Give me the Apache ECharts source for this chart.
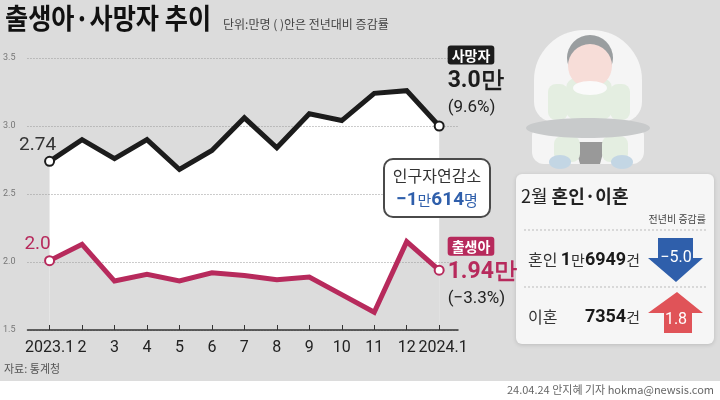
<!DOCTYPE html>
<html>
<head>
<meta charset="utf-8">
<script src="https://cdn.jsdelivr.net/npm/echarts@6/dist/echarts.min.js"></script>
<style>
html, body { margin: 0; padding: 0; background: #fff; }
#main { width: 720px; height: 400px; }
</style>
</head>
<body>
<div id="main"></div>
<script>
// 월별 라벨과 값(만명)
var months = ['2023.1', '2', '3', '4', '5', '6', '7', '8', '9', '10', '11', '12', '2024.1'];
var deaths = [2.74, 2.90, 2.76, 2.90, 2.68, 2.82, 3.06, 2.84, 3.09, 3.04, 3.24, 3.26, 3.00];
var births = [2.01, 2.13, 1.86, 1.91, 1.86, 1.92, 1.90, 1.87, 1.89, 1.76, 1.63, 2.15, 1.94];
var startLabels = ['2.74', '2.0'];
var deathNote = ['사망자', '3.0만', '(9.6%)'];
var birthNote = ['출생아', '1.94만', '(−3.3%)'];
var gapNote = ['인구자연감소', '−1', '만', '614', '명'];

// 2월 혼인·이혼
var panelRows = ['혼인', '이혼'];
var panelMan = ['1', ''];
var panelCounts = ['6949', '7354'];
var panelChanges = ['−5.0', '1.8'];

var BLACK = '#1c1c1c', RED = '#b72a5c', BLUE = '#2f5fab', BG = '#dcdcdc';
var NUM = "Roboto, 'Liberation Sans', sans-serif";
var KR = "'Noto Sans CJK KR', 'Noto Sans', sans-serif";

var myChart = echarts.init(document.getElementById('main'));
var idx = months.map(function (m, i) { return i; });
var last = months.length - 1;

function lineData(arr, color, startText, note, offY) {
	return arr.map(function (v, i) {
		var item = { value: [i, v], symbol: (i === 0 || i === last) ? 'circle' : 'none' };
		if (i === 0) {
			item.label = {
				show: true, position: 'top', distance: 1, offset: [-12, 0],
				formatter: startText, fontFamily: NUM, fontSize: 19,
				color: color === RED ? RED : '#333'
			};
		}
		if (i === last) {
			item.label = {
				show: true, position: 'right', distance: 3, offset: [0, offY], align: 'left',
				formatter: '{b|' + note[0] + '}\n{v|' + note[1] + '}\n{p|' + note[2] + '}',
				rich: {
					b: { backgroundColor: color, color: '#fff', borderRadius: 3, padding: [3, 4, 2, 4],
						fontSize: 14, fontWeight: 'bold', fontFamily: KR, lineHeight: 22 },
					v: { color: color, fontSize: 23, fontWeight: 'bold', fontFamily: NUM, lineHeight: 30 },
					p: { color: '#222', fontSize: 17, fontFamily: NUM, lineHeight: 24 }
				}
			};
		}
		return item;
	});
}

// 아기 그림 (배경 장식)
var baby = {
	type: 'group', left: 526, top: 30, silent: true,
	children: [
		{ type: 'rect', shape: { x: 10, y: 6, width: 108, height: 92, r: [50, 50, 20, 20] }, style: { fill: '#f5f5f5' } },
		{ type: 'rect', shape: { x: 8, y: 100, width: 112, height: 40, r: 12 }, style: { fill: '#f5f5f5' } },
		{ type: 'rect', shape: { x: 42, y: 54, width: 46, height: 42, r: 10 }, style: { fill: '#e4eee1' } },
		{ type: 'rect', shape: { x: 24, y: 60, width: 20, height: 36, r: 8 }, style: { fill: '#e4eee1' } },
		{ type: 'rect', shape: { x: 86, y: 60, width: 20, height: 36, r: 8 }, style: { fill: '#e4eee1' } },
		{ type: 'circle', shape: { cx: 66, cy: 34, r: 23 }, style: { fill: '#9a9ea0' } },
		{ type: 'circle', shape: { cx: 66, cy: 42, r: 22 }, style: { fill: '#f7ddd8' } },
		{ type: 'ellipse', shape: { cx: 66, cy: 64, rx: 17, ry: 7 }, style: { fill: '#fafafa' } },
		{ type: 'polygon', shape: { points: [[50, 118], [82, 118], [76, 140], [56, 140]] }, style: { fill: '#999' } },
		{ type: 'rect', shape: { x: 30, y: 112, width: 26, height: 26, r: 8 }, style: { fill: '#e4eee1' } },
		{ type: 'rect', shape: { x: 78, y: 112, width: 26, height: 26, r: 8 }, style: { fill: '#e4eee1' } },
		{ type: 'ellipse', shape: { cx: 36, cy: 138, rx: 11, ry: 7 }, style: { fill: '#c3d6e4' } },
		{ type: 'ellipse', shape: { cx: 98, cy: 138, rx: 11, ry: 7 }, style: { fill: '#c3d6e4' } },
		{ type: 'ellipse', shape: { cx: 64, cy: 104, rx: 62, ry: 10 }, style: { fill: '#c8cacb' } }
	]
};

// 혼인·이혼 패널
var panelChildren = [
	{ type: 'rect', shape: { x: 0, y: 0, width: 198, height: 170, r: 6 },
		style: { fill: '#f6f6f6', shadowBlur: 4, shadowColor: 'rgba(0,0,0,0.15)', shadowOffsetY: 1 } },
	{ type: 'text', x: 5, y: 22, style: {
		text: '{r|2월 }{b|혼인·이혼}', verticalAlign: 'middle',
		rich: { r: { fontSize: 18, fontFamily: KR, fill: '#222' }, b: { fontSize: 18, fontFamily: KR, fontWeight: 'bold', fill: '#222' } } } },
	{ type: 'text', x: 190, y: 45, style: { text: '전년비 증감률', align: 'right', verticalAlign: 'middle', fontSize: 10, fontFamily: KR, fill: '#444' } },
	{ type: 'line', shape: { x1: 8, y1: 56, x2: 190, y2: 56 }, style: { stroke: '#bbb', lineDash: [2, 2] } },
	{ type: 'line', shape: { x1: 8, y1: 113, x2: 190, y2: 113 }, style: { stroke: '#bbb', lineDash: [2, 2] } }
];
panelRows.forEach(function (name, i) {
	var cy = i === 0 ? 86 : 143;
	panelChildren.push({ type: 'text', x: 12, y: cy, style: { text: name, verticalAlign: 'middle', fontSize: 16, fontFamily: KR, fill: '#333' } });
	panelChildren.push({ type: 'text', x: 124, y: cy, style: {
		text: '{n|' + panelMan[i] + '}' + (panelMan[i] ? '{u|만}' : '') + '{n|' + panelCounts[i] + '}{u|건}',
		align: 'right', verticalAlign: 'middle',
		rich: { n: { fontSize: 18, fontWeight: 'bold', fontFamily: NUM, fill: '#1a1a1a' }, u: { fontSize: 15, fontFamily: KR, fill: '#333' } } } });
	var down = panelChanges[i].charAt(0) === '−';
	var pts = down
		? [[142, 64], [177, 64], [177, 84], [187, 84], [160, 108], [132, 84], [142, 84]]
		: [[148, 159], [176, 159], [176, 139], [187, 139], [161, 118], [132, 139], [148, 139]];
	panelChildren.push({ type: 'polygon', shape: { points: pts }, style: { fill: down ? BLUE : '#e05358' } });
	panelChildren.push({ type: 'text', x: 160, y: down ? 84 : 146, style: {
		text: panelChanges[i], align: 'center', verticalAlign: 'middle', fontSize: 16, fontFamily: NUM, fill: '#fff' } });
});

myChart.setOption({
	backgroundColor: BG,
	animation: false,
	grid: { left: 27, right: 262, top: 58, bottom: 70 },
	xAxis: {
		type: 'value', min: -0.68, max: 12.58, z: 3,
		splitLine: { show: false },
		axisLine: { show: true, lineStyle: { color: '#333', width: 1.5 } },
		axisTick: { show: true, inside: true, length: 5, customValues: idx, lineStyle: { color: '#333' } },
		axisLabel: {
			customValues: idx, margin: 10, fontSize: 16, fontFamily: NUM, color: '#222',
			showMinLabel: true, showMaxLabel: true, hideOverlap: false,
			formatter: function (v) {
				var i = Math.round(v);
				return i === last ? '{e|' + months[i] + '}' : months[i];
			},
			rich: { e: { fontSize: 16, fontFamily: NUM, color: '#222', padding: [0, 0, 0, 8] } }
		}
	},
	yAxis: {
		type: 'value', min: 1.5, max: 3.5, interval: 0.5, z: 3,
		axisLine: { show: false }, axisTick: { show: false },
		axisLabel: { margin: 12, fontSize: 9, fontFamily: NUM, color: '#777',
			formatter: function (v) { return v.toFixed(1); } },
		splitLine: { lineStyle: { color: '#999', type: [1, 2], width: 1 } }
	},
	series: [
		// 두 선 사이(자연감소)만 흰색으로: 사망자 아래를 흰색, 출생아 아래를 다시 배경색으로
		{ name: 'gapTop', type: 'line', silent: true, symbol: 'none', z: 1,
			lineStyle: { width: 0 }, areaStyle: { color: '#fff', opacity: 1, origin: 'start' },
			data: deaths.map(function (v, i) { return [i, v]; }) },
		{ name: 'gapBottom', type: 'line', silent: true, symbol: 'none', z: 1,
			lineStyle: { width: 0 }, areaStyle: { color: BG, opacity: 1, origin: 'start' },
			data: births.map(function (v, i) { return [i, v]; }) },
		{ name: '사망자', type: 'line', z: 4, showAllSymbol: true, symbolSize: 9,
			lineStyle: { color: BLACK, width: 5, join: 'miter' },
			itemStyle: { color: '#fff', borderColor: BLACK, borderWidth: 2 },
			data: lineData(deaths, BLACK, startLabels[0], deathNote, -44) },
		{ name: '출생아', type: 'line', z: 4, showAllSymbol: true, symbolSize: 9,
			lineStyle: { color: RED, width: 5, join: 'miter' },
			itemStyle: { color: '#fff', borderColor: RED, borderWidth: 2 },
			data: lineData(births, RED, startLabels[1], birthNote, 3) }
	],
	graphic: [
		{ type: 'rect', left: 0, top: 381, shape: { width: 720, height: 19 }, style: { fill: '#fff' }, silent: true },
		{ type: 'text', left: 5, top: 4, scaleX: 0.9, style: { text: '출생아·사망자 추이', fontSize: 28, fontWeight: 'bold', fontFamily: KR, fill: '#111' } },
		{ type: 'text', left: 223, top: 18, style: { text: '단위:만명 ( )안은 전년대비 증감률', fontSize: 12, fontFamily: KR, fill: '#444' } },
		{ type: 'text', left: 4, top: 363, style: { text: '자료: 통계청', fontSize: 11, fontFamily: KR, fill: '#555' } },
		{ type: 'text', right: 6, top: 384, style: { text: '24.04.24 안지혜 기자 hokma@newsis.com', fontSize: 11, fontFamily: KR, fill: '#666' } },
		baby,
		{ type: 'group', left: 516, top: 174, z: 10, children: panelChildren },
		{ type: 'group', left: 383, top: 158, z: 10, children: [
			{ type: 'rect', z: 10, shape: { x: 0, y: 0, width: 106, height: 58, r: 9 }, style: { fill: '#fff', stroke: '#4a4a4a', lineWidth: 2 } },
			{ type: 'text', z: 11, x: 53, y: 17, style: { text: gapNote[0], align: 'center', verticalAlign: 'middle', fontSize: 16, fontFamily: KR, fill: '#333' } },
			{ type: 'text', z: 11, x: 53, y: 41, style: {
				text: '{b|' + gapNote[1] + '}{r|' + gapNote[2] + '}{b|' + gapNote[3] + '}{r|' + gapNote[4] + '}',
				align: 'center', verticalAlign: 'middle',
				rich: { b: { fontSize: 19, fontWeight: 'bold', fontFamily: NUM, fill: BLUE }, r: { fontSize: 15, fontFamily: KR, fill: BLUE } } } }
		] }
	]
});
</script>
</body>
</html>
